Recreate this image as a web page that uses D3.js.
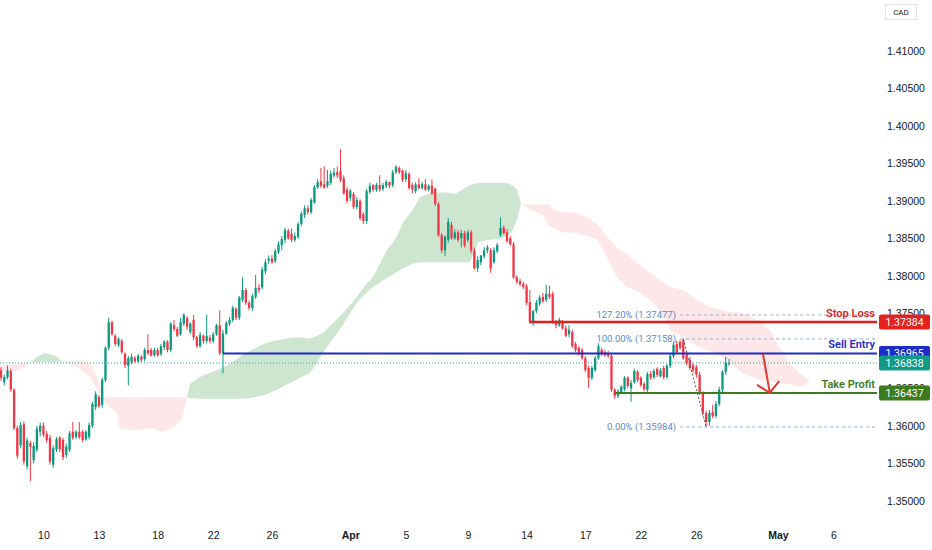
<!DOCTYPE html>
<html>
<head>
<meta charset="utf-8">
<script src="https://cdn.jsdelivr.net/npm/d3@7"></script>
<style>
body { margin: 0; background: #fff; }
svg { display: block; font-family: Roboto, "Noto Sans", sans-serif; }
</style>
</head>
<body>
<div id="chart"></div>
<script>
// candles: [open, high, low, close]
var ohlc = [
  [1.3674,1.3678,1.3660,1.3664],[1.3658,1.3668,1.3654,1.3665],[1.3665,1.3680,1.3662,1.3674],[1.3673,1.3676,1.3645,1.3648],[1.3648,1.3650,1.3594,1.3597],
  [1.3597,1.3600,1.3556,1.3560],[1.3574,1.3605,1.3570,1.3601],[1.3602,1.3606,1.3548,1.3552],[1.3546,1.3584,1.3542,1.3580],[1.3577,1.3580,1.3526,1.3572],
  [1.3554,1.3578,1.3550,1.3573],[1.3568,1.3600,1.3565,1.3596],[1.3592,1.3604,1.3586,1.3600],[1.3600,1.3604,1.3585,1.3588],[1.3589,1.3593,1.3577,1.3581],
  [1.3584,1.3588,1.3548,1.3552],[1.3548,1.3574,1.3544,1.3570],[1.3568,1.3585,1.3565,1.3582],[1.3584,1.3586,1.3565,1.3569],[1.3581,1.3584,1.3554,1.3558],
  [1.3561,1.3576,1.3557,1.3572],[1.3568,1.3593,1.3565,1.3590],[1.3592,1.3605,1.3581,1.3584],[1.3585,1.3594,1.3582,1.3592],[1.3592,1.3605,1.3582,1.3585],
  [1.3592,1.3594,1.3578,1.3581],[1.3582,1.3594,1.3580,1.3592],[1.3585,1.3604,1.3582,1.3601],[1.3600,1.3632,1.3597,1.3629],[1.3625,1.3646,1.3621,1.3642],
  [1.3638,1.3641,1.3624,1.3626],[1.3628,1.3664,1.3624,1.3661],[1.3661,1.3706,1.3658,1.3704],[1.3704,1.3744,1.3701,1.3738],[1.3738,1.3740,1.3720,1.3722],
  [1.3720,1.3722,1.3706,1.3709],[1.3708,1.3718,1.3705,1.3716],[1.3713,1.3716,1.3696,1.3698],[1.3696,1.3698,1.3677,1.3681],[1.3680,1.3693,1.3654,1.3690],
  [1.3685,1.3696,1.3682,1.3692],[1.3690,1.3693,1.3684,1.3686],[1.3686,1.3696,1.3684,1.3693],[1.3692,1.3694,1.3685,1.3688],[1.3689,1.3704,1.3686,1.3701],
  [1.3701,1.3722,1.3694,1.3697],[1.3701,1.3704,1.3692,1.3694],[1.3694,1.3704,1.3692,1.3701],[1.3701,1.3704,1.3692,1.3694],[1.3696,1.3709,1.3693,1.3706],
  [1.3705,1.3714,1.3701,1.3712],[1.3712,1.3714,1.3698,1.3701],[1.3701,1.3738,1.3698,1.3736],[1.3734,1.3741,1.3726,1.3729],[1.3729,1.3732,1.3718,1.3720],
  [1.3722,1.3744,1.3720,1.3738],[1.3736,1.3750,1.3733,1.3748],[1.3744,1.3746,1.3728,1.3732],[1.3725,1.3738,1.3722,1.3736],[1.3741,1.3748,1.3714,1.3718],
  [1.3718,1.3720,1.3704,1.3706],[1.3706,1.3725,1.3704,1.3721],[1.3720,1.3722,1.3709,1.3713],[1.3713,1.3748,1.3710,1.3720],[1.3718,1.3721,1.3710,1.3713],
  [1.3713,1.3725,1.3710,1.3722],[1.3722,1.3736,1.3720,1.3734],[1.3734,1.3754,1.3694,1.3697],[1.3697,1.3728,1.3670,1.3723],[1.3723,1.3740,1.3721,1.3737],
  [1.3736,1.3745,1.3733,1.3741],[1.3741,1.3760,1.3738,1.3757],[1.3756,1.3758,1.3741,1.3744],[1.3744,1.3773,1.3741,1.3771],[1.3768,1.3798,1.3765,1.3781],
  [1.3781,1.3784,1.3761,1.3764],[1.3764,1.3767,1.3754,1.3757],[1.3757,1.3776,1.3753,1.3773],[1.3772,1.3801,1.3769,1.3784],[1.3784,1.3789,1.3777,1.3781],
  [1.3785,1.3812,1.3782,1.3808],[1.3806,1.3822,1.3802,1.3818],[1.3820,1.3827,1.3816,1.3823],[1.3823,1.3828,1.3816,1.3818],[1.3820,1.3836,1.3817,1.3833],
  [1.3832,1.3846,1.3829,1.3842],[1.3841,1.3853,1.3834,1.3849],[1.3848,1.3864,1.3844,1.3861],[1.3860,1.3863,1.3848,1.3850],[1.3856,1.3863,1.3845,1.3848],
  [1.3848,1.3858,1.3845,1.3853],[1.3852,1.3872,1.3849,1.3869],[1.3869,1.3886,1.3866,1.3883],[1.3881,1.3894,1.3877,1.3890],[1.3890,1.3894,1.3882,1.3885],
  [1.3885,1.3904,1.3882,1.3901],[1.3898,1.3921,1.3896,1.3918],[1.3918,1.3929,1.3916,1.3925],[1.3926,1.3944,1.3917,1.3920],[1.3922,1.3946,1.3916,1.3918],
  [1.3920,1.3941,1.3917,1.3926],[1.3924,1.3940,1.3921,1.3936],[1.3934,1.3944,1.3931,1.3938],[1.3938,1.3946,1.3930,1.3934],[1.3940,1.3969,1.3925,1.3928],
  [1.3930,1.3934,1.3908,1.3910],[1.3915,1.3918,1.3897,1.3900],[1.3904,1.3916,1.3900,1.3913],[1.3909,1.3912,1.3889,1.3892],[1.3892,1.3905,1.3889,1.3901],
  [1.3900,1.3902,1.3874,1.3877],[1.3882,1.3885,1.3869,1.3873],[1.3873,1.3916,1.3869,1.3913],[1.3912,1.3924,1.3909,1.3920],[1.3921,1.3922,1.3912,1.3915],
  [1.3915,1.3924,1.3912,1.3921],[1.3921,1.3934,1.3912,1.3915],[1.3916,1.3924,1.3913,1.3921],[1.3920,1.3928,1.3917,1.3925],[1.3925,1.3926,1.3917,1.3920],
  [1.3921,1.3941,1.3918,1.3938],[1.3938,1.3948,1.3936,1.3945],[1.3944,1.3946,1.3936,1.3938],[1.3940,1.3942,1.3925,1.3928],[1.3929,1.3941,1.3925,1.3937],
  [1.3936,1.3938,1.3915,1.3917],[1.3921,1.3924,1.3910,1.3915],[1.3913,1.3925,1.3910,1.3922],[1.3922,1.3930,1.3915,1.3917],[1.3917,1.3925,1.3915,1.3922],
  [1.3922,1.3929,1.3913,1.3915],[1.3915,1.3922,1.3913,1.3920],[1.3920,1.3928,1.3908,1.3910],[1.3916,1.3918,1.3893,1.3896],[1.3896,1.3898,1.3852,1.3854],
  [1.3854,1.3857,1.3830,1.3834],[1.3834,1.3854,1.3826,1.3852],[1.3848,1.3877,1.3844,1.3872],[1.3868,1.3872,1.3848,1.3850],[1.3850,1.3862,1.3848,1.3858],
  [1.3858,1.3861,1.3845,1.3848],[1.3850,1.3861,1.3838,1.3857],[1.3857,1.3860,1.3838,1.3841],[1.3848,1.3861,1.3845,1.3858],[1.3858,1.3861,1.3830,1.3834],
  [1.3834,1.3838,1.3808,1.3810],[1.3810,1.3826,1.3805,1.3821],[1.3818,1.3828,1.3814,1.3827],[1.3826,1.3838,1.3823,1.3834],[1.3834,1.3841,1.3830,1.3838],
  [1.3834,1.3837,1.3804,1.3810],[1.3818,1.3838,1.3816,1.3834],[1.3833,1.3844,1.3830,1.3841],[1.3854,1.3878,1.3852,1.3864],[1.3864,1.3867,1.3855,1.3857],
  [1.3858,1.3862,1.3844,1.3846],[1.3850,1.3853,1.3840,1.3842],[1.3842,1.3845,1.3796,1.3798],[1.3798,1.3801,1.3789,1.3792],[1.3793,1.3796,1.3786,1.3789],
  [1.3789,1.3792,1.3782,1.3785],[1.3786,1.3789,1.3761,1.3764],[1.3765,1.3781,1.3736,1.3738],[1.3737,1.3755,1.3733,1.3753],[1.3753,1.3768,1.3750,1.3764],
  [1.3763,1.3774,1.3760,1.3771],[1.3772,1.3777,1.3764,1.3766],[1.3768,1.3788,1.3765,1.3776],[1.3776,1.3787,1.3769,1.3772],[1.3776,1.3779,1.3736,1.3738],
  [1.3738,1.3741,1.3730,1.3734],[1.3734,1.3744,1.3732,1.3741],[1.3738,1.3741,1.3728,1.3730],[1.3730,1.3734,1.3718,1.3720],[1.3722,1.3734,1.3718,1.3728],
  [1.3725,1.3728,1.3704,1.3706],[1.3709,1.3712,1.3698,1.3701],[1.3704,1.3706,1.3694,1.3697],[1.3701,1.3704,1.3688,1.3690],[1.3690,1.3693,1.3672,1.3674],
  [1.3677,1.3680,1.3650,1.3664],[1.3664,1.3680,1.3661,1.3677],[1.3674,1.3693,1.3672,1.3690],[1.3690,1.3710,1.3688,1.3706],[1.3701,1.3704,1.3693,1.3696],
  [1.3698,1.3701,1.3692,1.3694],[1.3697,1.3700,1.3690,1.3693],[1.3693,1.3696,1.3645,1.3648],[1.3648,1.3650,1.3636,1.3640],[1.3640,1.3649,1.3637,1.3646],
  [1.3645,1.3654,1.3642,1.3652],[1.3649,1.3666,1.3646,1.3664],[1.3664,1.3666,1.3650,1.3653],[1.3650,1.3661,1.3632,1.3657],[1.3658,1.3676,1.3656,1.3673],
  [1.3672,1.3674,1.3658,1.3661],[1.3664,1.3666,1.3652,1.3654],[1.3656,1.3658,1.3646,1.3649],[1.3648,1.3672,1.3645,1.3669],[1.3669,1.3673,1.3661,1.3664],
  [1.3665,1.3676,1.3662,1.3673],[1.3676,1.3678,1.3665,1.3668],[1.3666,1.3677,1.3664,1.3674],[1.3677,1.3680,1.3662,1.3665],[1.3665,1.3682,1.3662,1.3680],
  [1.3680,1.3696,1.3677,1.3693],[1.3693,1.3712,1.3690,1.3708],[1.3709,1.3713,1.3696,1.3698],[1.3712,1.3714,1.3701,1.3704],[1.3714,1.37158,1.3688,1.3690],
  [1.3694,1.3698,1.3681,1.3684],[1.3688,1.3692,1.3674,1.3677],[1.3681,1.3684,1.3670,1.3674],[1.3678,1.3681,1.3664,1.3668],[1.3668,1.3672,1.3641,1.3644],
  [1.3644,1.3646,1.3614,1.3617],[1.3617,1.3620,1.35984,1.3605],[1.3605,1.3621,1.3600,1.3617],[1.3618,1.3628,1.3610,1.3613],[1.3613,1.3633,1.3610,1.3629],
  [1.3629,1.3652,1.3626,1.3648],[1.3648,1.3674,1.3645,1.3672],[1.3672,1.3692,1.3668,1.3684],[1.3683,1.3689,1.3680,1.36838]
];

// ichimoku cloud patches: [candle index, upper span, lower span]
var cloudRed1 = [[-0.5,1.3681,1.3672],[4.3,1.3682,1.3673],[7.4,1.3684,1.3678],[9.2,1.3685,1.3685]];
var cloudGreen1 = [[9.2,1.3685,1.3685],[11,1.3692,1.3685],[13.5,1.3697,1.3685],[16.5,1.3694,1.3685],[18.7,1.3686,1.3686]];
var cloudRed2 = [[18.7,1.3686,1.3686],[24.2,1.3686,1.3676],[27.3,1.3685,1.3665],[29.4,1.3664,1.3648],[31.2,1.3640,1.3637],
  [31.9,1.3638,1.3631],[33.4,1.3638,1.3624],[35.5,1.3638,1.3617],[36.4,1.3638,1.3596],[41.7,1.3638,1.3594],[45.6,1.3638,1.3597],
  [49.6,1.3638,1.3592],[52.7,1.3638,1.3598],[55.4,1.3638,1.3608],[57,1.3638,1.3638]];
var cloudGreen2 = [[57,1.3638,1.3638],[57.9,1.3656,1.3637],[60.9,1.3665,1.3636],[64.9,1.3672,1.3636],[69.2,1.3680,1.3636],
  [73.2,1.3692,1.3636],[76.3,1.3700,1.3637],[80.9,1.3710,1.3641],[84.5,1.3714,1.3648],[88.5,1.3717,1.3657],[91.6,1.3718,1.3664],
  [94.6,1.3716,1.3670],[96.8,1.3720,1.3684],[98.6,1.3724,1.3697],[101.7,1.3737,1.3716],[104.7,1.3750,1.3734],[106.9,1.3761,1.3750],
  [109,1.3772,1.3764],[112.1,1.3790,1.3778],[113.9,1.3798,1.3785],[118.2,1.3834,1.3797],[121.3,1.3852,1.3805],[123.1,1.3871,1.3810],
  [126.2,1.3888,1.3816],[128.3,1.3905,1.3818],[132.3,1.3911,1.3818],[136.6,1.3911,1.3818],[139.1,1.3909,1.3818],[143.6,1.3921,1.3818],
  [144.9,1.3922,1.3831],[146.1,1.3924,1.3845],[149.8,1.3924,1.3848],[152.8,1.3924,1.3849],[155,1.3924,1.3853],[156.8,1.3920,1.3861],
  [158,1.3915,1.3874],[159.3,1.3896,1.3896]];
var cloudRed3 = [[159.3,1.3896,1.3896],[162,1.3895,1.3889],[166,1.3895,1.3881],[168.1,1.3895,1.3865],[169.1,1.3888,1.3864],
  [172.1,1.3885,1.3858],[176.4,1.3884,1.3857],[179.5,1.3878,1.3853],[182.5,1.3869,1.3848],[183.5,1.3865,1.3841],[185.6,1.3852,1.3825],
  [188.7,1.3838,1.3798],[191.7,1.3829,1.3785],[192.7,1.3825,1.3784],[195.7,1.3814,1.3777],[198.8,1.3804,1.3768],[201.8,1.3794,1.3754],
  [204,1.3788,1.3741],[204.9,1.3785,1.3728],[208.9,1.3781,1.3718],[213.2,1.3768,1.3706],[217.1,1.3758,1.3700],[219.3,1.3756,1.3697],
  [221.1,1.3754,1.3690],[223.3,1.3752,1.3684],[227.3,1.3750,1.3670],[231.5,1.3741,1.3662],[233.4,1.3734,1.3661],[235.5,1.3728,1.3660],
  [237.7,1.3710,1.3658],[239.5,1.3698,1.3657],[240.7,1.3688,1.3656],[244.7,1.3670,1.3652],[246.2,1.3665,1.3654],[247.8,1.3660,1.3660]];

var tickIdx = [13, 30, 48, 65, 83, 107, 124, 143, 161, 179, 196, 213, 238, 255];
var tickText = ["10", "13", "18", "22", "26", "Apr", "5", "9", "14", "17", "22", "26", "May", "6"];
var priceTicks = [1.41, 1.405, 1.40, 1.395, 1.39, 1.385, 1.38, 1.375, 1.37, 1.365, 1.36, 1.355, 1.35];

var levelNames = ["Stop Loss", "Sell Entry", "Take Profit"];
var levelPrices = [1.37384, 1.36965, 1.36437];
var levelStart = [162, 68, 188];

var fibNames = ["127.20%", "100.00%", "0.00%"];
var fibPrices = [1.37477, 1.37158, 1.35984];
var fibStart = 208;
var fibSwing = [[209, 1.37158], [216, 1.35984]];
var arrowPts = [[233.4, 1.3696], [235.5, 1.3644]];
var lastPrice = 1.36838;

var width = 932, height = 550, plotRight = 877, plotBottom = 526;
var upColor = "#089981", downColor = "#f23645";
var levelColors = ["#dc1f1f", "#1d2bc8", "#3d7b1d"];
var boxColors = ["#e3211f", "#1d2bc8", "#3d7b1d"];

var svg = d3.select("#chart").append("svg")
    .attr("width", width)
    .attr("height", height);

var x = d3.scaleLinear().domain([0, ohlc.length - 1]).range([1, 729]);
var y = d3.scaleLinear().domain([1.35, 1.41]).range([500.7, 50.9]);

svg.append("clipPath").attr("id", "plot")
    .append("rect").attr("width", plotRight).attr("height", plotBottom);

var plot = svg.append("g").attr("clip-path", "url(#plot)");

// clouds
var area = d3.area()
    .x(function (d) { return x(d[0]); })
    .y0(function (d) { return y(d[2]); })
    .y1(function (d) { return y(d[1]); });

[[cloudRed1, false], [cloudGreen1, true], [cloudRed2, false], [cloudGreen2, true], [cloudRed3, false]]
    .forEach(function (c) {
        plot.append("path")
            .attr("d", area(c[0]))
            .attr("fill", c[1] ? "rgba(67,160,71,0.26)" : "rgba(242,54,69,0.12)");
    });

// current price line
plot.append("line")
    .attr("x1", 0).attr("x2", plotRight)
    .attr("y1", y(lastPrice)).attr("y2", y(lastPrice))
    .attr("stroke", "#26a69a")
    .attr("stroke-width", 1)
    .attr("stroke-dasharray", "1,2");

// candles
var candle = plot.selectAll(".candle")
    .data(ohlc)
    .enter()
    .append("g")
    .attr("class", "candle");

candle.append("line")
    .attr("x1", function (d, i) { return x(i); })
    .attr("x2", function (d, i) { return x(i); })
    .attr("y1", function (d) { return y(d[1]); })
    .attr("y2", function (d) { return y(d[2]); })
    .attr("stroke", function (d) { return d[3] >= d[0] ? upColor : downColor; })
    .attr("stroke-width", 1);

candle.append("rect")
    .attr("x", function (d, i) { return x(i) - 1.15; })
    .attr("width", 2.3)
    .attr("y", function (d) { return y(Math.max(d[0], d[3])); })
    .attr("height", function (d) { return Math.max(1, Math.abs(y(d[0]) - y(d[3]))); })
    .attr("fill", function (d) { return d[3] >= d[0] ? upColor : downColor; });

// fibonacci levels
fibNames.forEach(function (n, i) {
    plot.append("line")
        .attr("x1", x(fibStart)).attr("x2", plotRight)
        .attr("y1", y(fibPrices[i])).attr("y2", y(fibPrices[i]))
        .attr("stroke", "#98add0")
        .attr("stroke-width", 1)
        .attr("stroke-dasharray", "3,3");
    plot.append("text")
        .attr("x", x(fibStart) - 4)
        .attr("y", y(fibPrices[i]))
        .attr("dy", ".35em")
        .attr("text-anchor", "end")
        .attr("font-size", "9.5px")
        .attr("fill", "#5a8bcc")
        .text(n + " (" + d3.format(".5f")(fibPrices[i]) + ")");
});

plot.append("line")
    .attr("x1", x(fibSwing[0][0])).attr("y1", y(fibSwing[0][1]))
    .attr("x2", x(fibSwing[1][0])).attr("y2", y(fibSwing[1][1]))
    .attr("stroke", "#555")
    .attr("stroke-width", 1)
    .attr("stroke-dasharray", "2,2");

// trade levels
levelNames.forEach(function (n, i) {
    plot.append("line")
        .attr("x1", x(levelStart[i])).attr("x2", plotRight)
        .attr("y1", y(levelPrices[i])).attr("y2", y(levelPrices[i]))
        .attr("stroke", levelColors[i])
        .attr("stroke-width", i === 0 ? 2.5 : 2);
    svg.append("text")
        .attr("x", 875)
        .attr("y", y(levelPrices[i]) - 5)
        .attr("text-anchor", "end")
        .attr("font-size", "11px")
        .attr("font-weight", 600)
        .attr("fill", levelColors[i])
        .text(n);
});

// arrow
var ax0 = x(arrowPts[0][0]), ay0 = y(arrowPts[0][1]),
    ax1 = x(arrowPts[1][0]), ay1 = y(arrowPts[1][1]);
var ang = Math.atan2(ay1 - ay0, ax1 - ax0);
plot.append("path")
    .attr("d", "M" + ax0 + "," + ay0 + "L" + ax1 + "," + ay1 +
        "M" + (ax1 - 15 * Math.cos(ang - 0.85)) + "," + (ay1 - 15 * Math.sin(ang - 0.85)) +
        "L" + ax1 + "," + ay1 +
        "L" + (ax1 - 15 * Math.cos(ang + 0.85)) + "," + (ay1 - 15 * Math.sin(ang + 0.85)))
    .attr("fill", "none")
    .attr("stroke", "#e53935")
    .attr("stroke-width", 2);

// price axis
var yAxis = svg.append("g")
    .attr("transform", "translate(887,0)")
    .call(d3.axisRight(y).tickValues(priceTicks).tickSize(0).tickPadding(0).tickFormat(d3.format(".5f")));
yAxis.select(".domain").remove();
yAxis.selectAll("text").attr("font-size", "10.5px").attr("fill", "#131722").attr("font-family", null);

// price labels
var boxes = levelPrices.map(function (p, i) { return [p, boxColors[i]]; });
boxes.push([lastPrice, "#139a84"]);
boxes.forEach(function (b) {
    svg.append("rect")
        .attr("x", 879).attr("y", y(b[0]) - 7.5)
        .attr("width", 51).attr("height", 15)
        .attr("rx", 2)
        .attr("fill", b[1]);
    svg.append("text")
        .attr("x", 904.5).attr("y", y(b[0]))
        .attr("dy", ".35em")
        .attr("text-anchor", "middle")
        .attr("font-size", "10.5px")
        .attr("fill", "#fff")
        .text(d3.format(".5f")(b[0]));
});

// currency box
svg.append("rect")
    .attr("x", 885.5).attr("y", 4.5)
    .attr("width", 31).attr("height", 15)
    .attr("fill", "#fff")
    .attr("stroke", "#e0e3eb");
svg.append("text")
    .attr("x", 901).attr("y", 12)
    .attr("dy", ".35em")
    .attr("text-anchor", "middle")
    .attr("font-size", "8px")
    .attr("fill", "#131722")
    .text("CAD");

// time axis
var xAxis = svg.append("g")
    .attr("transform", "translate(0,529)")
    .call(d3.axisBottom(x).tickValues(tickIdx).tickSize(0).tickPadding(3)
        .tickFormat(function (d, i) { return tickText[i]; }));
xAxis.select(".domain").remove();
xAxis.selectAll("text")
    .attr("font-size", "10.5px")
    .attr("fill", "#131722")
    .attr("font-family", null)
    .attr("font-weight", function (d, i) { return /[A-Za-z]/.test(tickText[i]) ? 700 : 400; });
</script>
</body>
</html>
